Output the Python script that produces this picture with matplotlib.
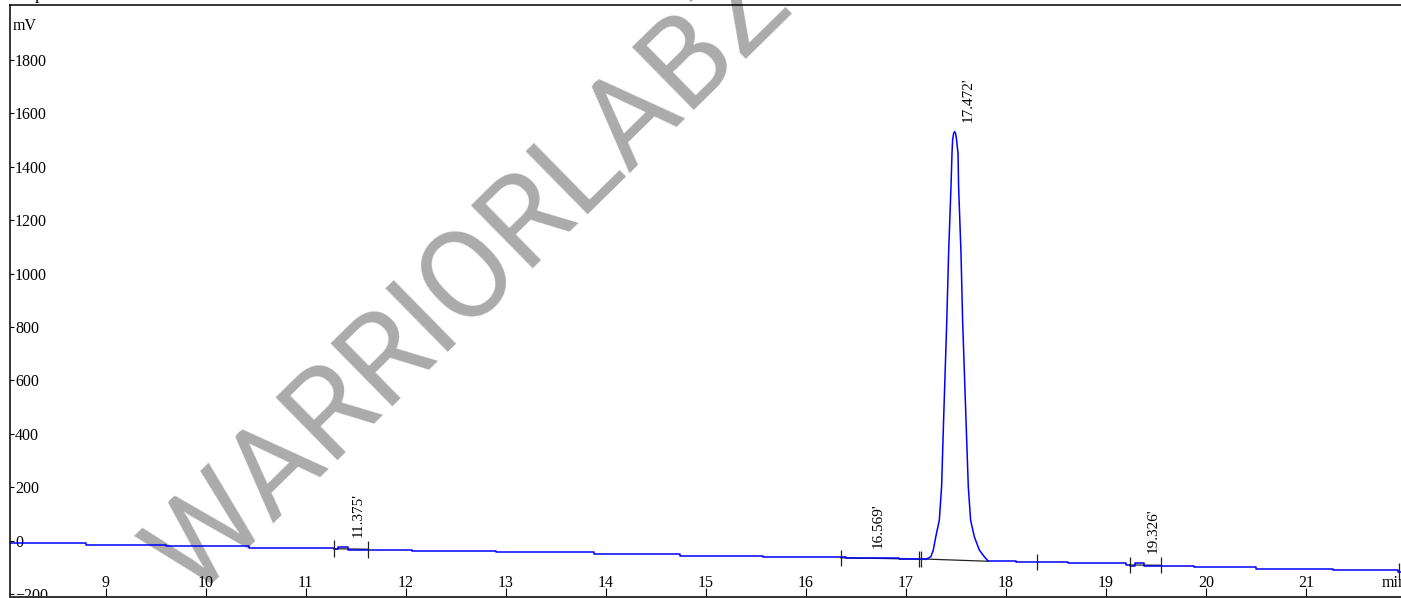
import numpy as np
import matplotlib
matplotlib.use("Agg")
import matplotlib.pyplot as plt

# baseline staircase before the main peak (min, mV)
pre_t = [8.00, 8.80, 9.60, 10.43, 11.28, 11.32, 11.42, 12.06, 12.90, 13.88, 14.74, 15.57, 16.40, 16.93, 17.20]
pre_mv = [-8, -15, -20, -26, -32, -24, -33, -39, -44, -49, -56, -62, -64, -69, -70]

peak_t = [17.20, 17.25, 17.275, 17.30, 17.335, 17.358, 17.378, 17.41, 17.428, 17.452, 17.462, 17.468,
          17.478, 17.488, 17.498, 17.508, 17.522, 17.528, 17.552, 17.568, 17.602, 17.625, 17.648,
          17.685, 17.735, 17.785, 17.82]
peak_mv = [-70, -60, -35, 15, 77, 202, 452, 826, 1076, 1326, 1451, 1500,
           1525, 1532, 1525, 1500, 1451, 1326, 1076, 826, 452, 202, 77,
           15, -35, -60, -75]

# baseline staircase after the main peak
post_t = [17.82, 18.10, 18.62, 19.20, 19.24, 19.29, 19.38, 19.88, 20.50, 21.27, 21.92, 22.00]
post_mv = [-75, -79, -85, -92, -93, -85, -93, -97, -105, -111, -117, -117]

# integration marks and drawn baselines
mark_t = [11.28, 11.62, 16.35, 17.13, 17.15, 18.31, 19.24, 19.55, 21.93]
mark_mv = [-30, -32, -64, -68, -68, -80, -91, -91, -113]
base_x0 = [11.28, 16.35, 17.14, 19.24]
base_y0 = [-30, -64, -68, -91]
base_x1 = [11.62, 17.13, 17.82, 19.55]
base_y1 = [-32, -69, -77, -92]

# peak labels
label_t = [11.375, 16.569, 17.472, 19.326]
label_mv = [-25, -66, 1532, -85]
label_txt = ["11.375'", "16.569'", "17.472'", "19.326'"]

xticks = list(range(9, 22))
yticks = list(range(-200, 2000, 200))

serif = "Liberation Serif"
W, H = 1401, 598
fig = plt.figure(figsize=(W / 100, H / 100), dpi=100)
# axes runs 14 px past the right edge, like the cropped original
ax = fig.add_axes([10 / W, 1.5 / H, 1405 / W, 591.5 / H])
ax.set_xlim(8.042, 22.092)
ax.set_ylim(-209, 2006)

# watermark
ax.text(494 / W, 1 - 303 / H, "WARRIORLABZ", transform=fig.transFigure, rotation=44.5,
        rotation_mode="anchor", ha="center", va="baseline", fontsize=90,
        family=["Roboto", "Liberation Sans"], color="#ababab", zorder=0.5)

# drawn integration baselines (black, under the trace)
for x0, y0, x1, y1 in zip(base_x0, base_y0, base_x1, base_y1):
    ax.plot([x0, x1], [y0, y1], color="#222222", lw=0.9, zorder=1.5)

ax.plot(pre_t, pre_mv, color="#0000ff", lw=1.1, drawstyle="steps-post", zorder=2)
ax.plot(peak_t, peak_mv, color="#0000ff", lw=1.1, zorder=2)
ax.plot(post_t, post_mv, color="#0000ff", lw=1.1, drawstyle="steps-post", zorder=2)

mark_mv = np.array(mark_mv)
ax.vlines(mark_t, mark_mv - 31, mark_mv + 31, color="#222222", lw=0.9, zorder=3)

for t, v, s in zip(label_t, label_mv, label_txt):
    ax.annotate(s, xy=(t, v), xytext=(15, 10), textcoords="offset pixels",
                rotation=90, ha="center", va="bottom", fontsize=11, family=serif)

# axes styling
ax.spines["right"].set_visible(False)
ax.spines["top"].set_linewidth(1.1)
ax.spines["left"].set_linewidth(1.1)
ax.spines["bottom"].set_linewidth(1.4)
ax.spines["bottom"].set_color("#333333")

ax.set_xticks(xticks)
ax.set_yticks(yticks)
ax.tick_params(axis="x", direction="in", length=6.5, width=0.8, pad=-6.8, labelsize=11.5)
ax.tick_params(axis="y", direction="in", length=3, width=0.8, pad=-3.6, labelsize=11.5)
for tk in ax.xaxis.get_major_ticks():
    tk.label1.set_verticalalignment("baseline")
    tk.label1.set_family(serif)
for tk in ax.yaxis.get_major_ticks():
    tk.label1.set_horizontalalignment("left")
    tk.label1.set_family(serif)

ax.text(0.002, 1 - 25 / 591.5, "mV", transform=ax.transAxes, ha="left", va="baseline",
        fontsize=11.5, family=serif)
ax.text(1382 / W, 11 / H, "min", transform=fig.transFigure, ha="left", va="baseline",
        fontsize=11.5, family=serif)
fig.text(35 / W, 1 + 1 / H, "p", ha="left", va="baseline", fontsize=13, family=serif)

fig.savefig("out.png", dpi=100)
